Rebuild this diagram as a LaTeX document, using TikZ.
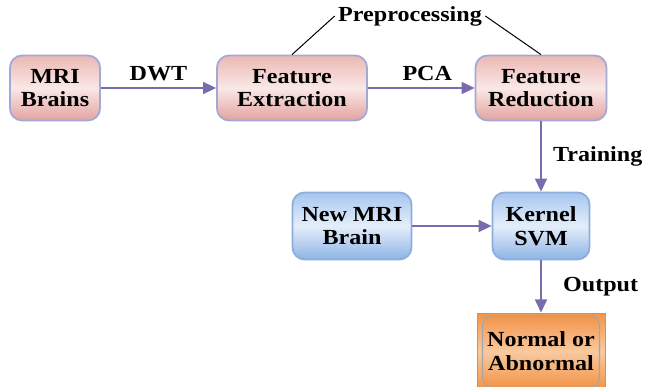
\documentclass[tikz,border=0pt]{standalone}
\usepackage{fontspec}
\newfontfamily\boxfont{Liberation Serif}[FakeStretch=1.12]
\usepackage{tikz}
\usetikzlibrary{arrows.meta,calc}
\definecolor{pinkA}{HTML}{ECB8B3}
\definecolor{pinkB}{HTML}{F9E8E6}
\definecolor{pinkC}{HTML}{E2A3A0}
\definecolor{blueA}{HTML}{A6C6EF}
\definecolor{blueB}{HTML}{E4EEFA}
\definecolor{blueC}{HTML}{8DB4E6}
\definecolor{orngA}{HTML}{F29448}
\definecolor{orngB}{HTML}{F9C9A0}
\definecolor{orngC}{HTML}{EE8A3C}
\definecolor{rimpink}{HTML}{A3A9D6}
\definecolor{rimblue}{HTML}{8EADDD}
\definecolor{flowcol}{HTML}{7A6AAE}
\newcommand{\BH}{65}

\begin{document}
\begin{tikzpicture}[x=1pt,y=1pt,
    every node/.style={font=\boxfont\bfseries\fontsize{21.5}{23.5}\selectfont},
    pinkbox/.style={draw=rimpink,line width=1.8pt,rounded corners=12pt,
      top color=pinkA,bottom color=pinkC,middle color=pinkB,
      minimum height=\BH,align=center,inner sep=0pt},
    bluebox/.style={draw=rimblue,line width=1.8pt,rounded corners=12pt,
      top color=blueA,bottom color=blueC,middle color=blueB,
      minimum height=67,align=center,inner sep=0pt},
    outbox/.style={draw=orngC,line width=1pt,
      top color=orngA,bottom color=orngA,middle color=orngB,
      minimum width=128,minimum height=76,align=center,inner sep=0pt},
    flow/.style={draw=flowcol,line width=1.6pt,-{Triangle[length=13pt,width=12pt]}}]
  \useasboundingbox (0,0) rectangle (645,-387);

  % boxes of the upper row
  \path (55,-88) node (mri) [pinkbox,minimum width=90] {MRI\\Brains};
  \path (292,-88) node (fext) [pinkbox,minimum width=150] {Feature\\Extraction};
  \path (541,-88) node (fred) [pinkbox,minimum width=131] {Feature\\Reduction};

  % boxes of the lower rows
  \path (352,-226) node (newmri) [bluebox,minimum width=119] {New MRI\\Brain};
  \path (541,-226) node (svm) [bluebox,minimum width=97] {Kernel\\SVM};
  \path (541,-351) node (res) [outbox] {};
  \draw [draw=gray!70,line width=1.2pt,rounded corners=10pt,
    top color=orngA,bottom color=orngA,middle color=orngB]
    ($(res.north west)+(6,-3)$) rectangle ($(res.south east)+(-6,2)$);
  \path (res.center) node (restxt) [align=center] {Normal or\\Abnormal};

  % preprocessing bracket
  \path (410,-16) node (pre) {Preprocessing};
  \draw [line width=1pt] (fext.north) -- (pre.west);
  \draw [line width=1pt] (fred.north) -- (pre.east);

  % flow arrows
  \draw [flow] (mri) -- node [above=3pt] (dwt) {DWT} (fext);
  \draw [flow] (fext) -- node [above=3pt,xshift=6pt] (pca) {PCA} (fred);
  \draw [flow] (fred) -- node [right=8pt] (trn) {Training} (svm);
  \draw [flow] (newmri) -- (svm);
  \draw [flow] (svm) -- node [right=18pt] (outp) {Output} (res);
\end{tikzpicture}
\end{document}
